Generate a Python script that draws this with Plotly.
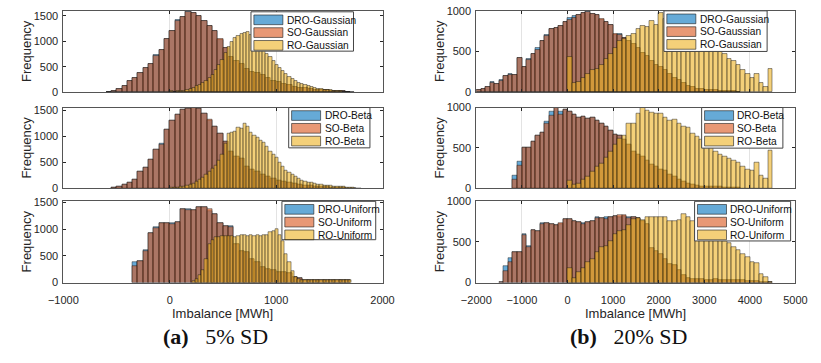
import plotly.graph_objects as go

# ---------------- data: histogram counts per bin ----------------
# (a) 5% SD  -- DRO/SO bins 50 MWh wide, RO bins 30 MWh wide
g5_dro_start, g5_dro_width = -600, 50
g5_dro = [10, 30, 60, 130, 225, 290, 385, 480, 565, 735, 840, 1040, 1200, 1425, 1480, 1595,
          1570, 1510, 1410, 1300, 1200, 1035, 880, 700, 610, 560, 460, 400, 370, 330, 290,
          230, 200, 160, 140, 110, 85, 75, 60, 50, 40, 35, 30, 25, 15, 10]
g5_so = [10, 30, 60, 120, 220, 290, 375, 475, 565, 705, 840, 1040, 1200, 1410, 1480, 1590,
         1570, 1510, 1410, 1300, 1200, 1045, 880, 700, 610, 560, 460, 400, 370, 330, 290,
         230, 200, 160, 140, 110, 85, 75, 60, 50, 40, 35, 30, 25, 15, 10]
g5_ro_start, g5_ro_width = 0, 30
g5_ro = [15, 12, 15, 22, 30, 45, 60, 85, 115, 145, 180, 225, 275, 345, 430, 530, 640, 780, 900,
         980, 1060, 1110, 1140, 1160, 1180, 1120, 1060, 990, 910, 830, 750, 690, 610, 540, 470,
         410, 350, 305, 265, 225, 190, 165, 140, 120, 100, 85, 72, 60, 50, 42, 35, 28, 22, 17,
         12, 9, 6, 4]

b5_dro_start, b5_dro_width = -550, 50
b5_dro = [12, 30, 70, 110, 180, 320, 410, 565, 745, 865, 1140, 1315, 1430, 1530, 1540, 1555,
          1540, 1435, 1310, 1190, 1060, 900, 720, 620, 570, 420, 360, 330, 260, 230, 190, 160,
          140, 110, 95, 80, 65, 50, 40, 35, 30, 25, 18, 12, 8, 5]
b5_so = [12, 30, 70, 110, 180, 320, 400, 565, 745, 850, 1140, 1300, 1430, 1530, 1540, 1555,
         1550, 1435, 1320, 1190, 1060, 900, 720, 620, 570, 420, 360, 330, 260, 230, 190, 160,
         140, 110, 95, 80, 65, 50, 40, 35, 30, 25, 18, 12, 8, 5]
b5_ro_start, b5_ro_width = 0, 30
b5_ro = [12, 15, 20, 30, 40, 55, 70, 95, 130, 170, 210, 260, 320, 380, 440, 540, 660, 870, 1060,
         1080, 1095, 1170, 1160, 1250, 1190, 1070, 1030, 980, 930, 880, 800, 720, 660, 600, 500,
         420, 350, 300, 260, 225, 190, 160, 140, 120, 105, 92, 85, 75, 66, 60, 50, 42, 37, 32,
         28, 25, 18, 12, 8, 5]

u5_dro_start, u5_dro_width = -350, 50
u5_dro = [380, 410, 610, 925, 1045, 1120, 1120, 1120, 1135, 1380, 1385, 1360, 1420, 1410, 1350,
          1290, 1110, 1060, 1065, 720, 600, 580, 450, 380, 300, 260, 230, 200, 190, 170, 100,
          80, 55, 50, 50, 55, 50, 55, 50, 55, 50]
u5_so = [310, 410, 590, 925, 1015, 1120, 1120, 1095, 1135, 1380, 1365, 1360, 1420, 1410, 1380,
         1290, 1110, 1060, 1045, 720, 600, 580, 450, 380, 300, 260, 230, 200, 190, 170, 100,
         80, 55, 50, 50, 55, 50, 55, 50, 55, 50]
u5_ro_start, u5_ro_width = 210, 30
u5_ro = [20, 65, 140, 230, 440, 715, 805, 850, 860, 875, 870, 880, 875, 860, 880, 895, 900, 880,
         890, 870, 885, 880, 900, 890, 940, 960, 1005, 900, 780, 540, 380, 220, 110, 65, 50, 45,
         40, 40, 42, 40, 38, 42, 40, 40, 42, 40, 38, 40, 42, 40]

# (b) 20% SD  -- all bins 100 MWh wide
g20_dro_start, g20_width = -2000, 100
g20_dro = [30, 45, 65, 120, 100, 155, 200, 225, 215, 420, 310, 415, 475, 545, 625, 705, 775, 795,
           820, 860, 910, 940, 950, 970, 995, 960, 950, 890, 870, 830, 700, 720, 665, 630, 590,
           545, 485, 445, 385, 330, 315, 270, 230, 170, 145, 110, 80, 62, 45, 40, 30, 25, 22,
           20, 18, 15, 12, 8]
g20_so = [25, 45, 65, 110, 100, 140, 200, 215, 215, 420, 310, 400, 475, 525, 625, 695, 775, 795,
          820, 860, 895, 920, 950, 970, 985, 960, 950, 900, 870, 830, 720, 710, 665, 630, 590,
          545, 485, 445, 385, 330, 315, 270, 230, 170, 145, 110, 80, 62, 45, 40, 30, 25, 22,
          20, 18, 15, 12, 8]
g20_ro_start = 0
g20_ro = [435, 110, 130, 180, 220, 270, 290, 340, 405, 465, 550, 625, 660, 690, 720, 775, 820,
          800, 880, 830, 975, 900, 880, 850, 820, 800, 760, 730, 700, 660, 640, 600, 560, 520,
          470, 410, 385, 330, 270, 230, 180, 230, 110, 60, 280]

b20_dro_start = -1200
b20_dro = [160, 335, 500, 510, 575, 650, 695, 830, 950, 1000, 945, 970, 950, 910, 880, 890, 870,
           880, 840, 800, 760, 720, 670, 660, 600, 540, 460, 420, 390, 340, 300, 265, 240, 220,
           175, 145, 110, 85, 65, 45, 35, 28, 25, 22, 20, 18, 15, 12, 10, 8]
b20_so = [110, 280, 500, 510, 575, 650, 695, 800, 900, 1000, 910, 970, 950, 910, 880, 890, 870,
          880, 840, 800, 760, 720, 670, 660, 600, 540, 460, 420, 390, 340, 300, 265, 240, 220,
          175, 145, 110, 85, 65, 45, 35, 28, 25, 22, 20, 18, 15, 12, 10, 8]
b20_ro_start = 0
b20_ro = [95, 45, 65, 105, 150, 215, 265, 310, 380, 460, 540, 620, 660, 800, 800, 930, 995, 965,
          940, 920, 930, 880, 840, 850, 800, 760, 755, 680, 640, 600, 540, 500, 460, 420, 400,
          375, 340, 320, 270, 230, 220, 320, 165, 125, 470]

u20_dro_start = -1500
u20_dro = [12, 205, 300, 370, 380, 600, 450, 640, 635, 735, 735, 720, 710, 715, 775, 780, 750,
           740, 735, 740, 760, 800, 795, 800, 800, 815, 805, 815, 800, 805, 790, 760, 720, 420,
           390, 350, 290, 230, 210, 150, 90, 60, 45, 40, 38, 35, 35, 38, 35, 35, 32, 30, 28, 25,
           20, 18, 15, 12, 10, 8]
u20_so = [12, 145, 250, 370, 380, 585, 430, 640, 635, 720, 735, 720, 710, 730, 775, 780, 750,
          740, 720, 740, 760, 790, 795, 780, 800, 815, 825, 830, 790, 805, 790, 760, 720, 420,
          390, 350, 290, 230, 210, 150, 90, 60, 45, 40, 38, 35, 35, 38, 35, 35, 32, 30, 28, 25,
          20, 18, 15, 12, 10, 8]
u20_ro_start = 0
u20_ro = [180, 50, 130, 180, 250, 290, 370, 430, 450, 510, 590, 630, 650, 700, 775, 790, 770,
          800, 800, 805, 800, 800, 750, 755, 770, 835, 800, 760, 720, 700, 680, 640, 600, 560,
          510, 480, 430, 400, 350, 310, 250, 245, 110, 70, 12]

series_names = ["DRO", "SO", "RO"]
dist_names = ["Gaussian", "Beta", "Uniform"]
x_ticks_a = [-1000, 0, 1000, 2000]
x_ticks_b = [-2000, -1000, 0, 1000, 2000, 3000, 4000, 5000]
y_ticks_a = [0, 500, 1000, 1500]
y_ticks_b = [0, 500, 1000]
captions = ["<b>(a)</b>\u2002 5% SD", "<b>(b)</b>\u2002 20% SD"]

# ---------------- styling ----------------
W, H = 821, 363
FACE = {"DRO": (0, 114, 189), "SO": (217, 83, 25), "RO": (237, 177, 32)}
ALPHA = 0.6
EDGE = "rgba(25,25,25,0.75)"
AXC = "#262626"
SANS = "Liberation Sans, Arial, sans-serif"


def fx(px):
    return px / W


def fy(py):
    return 1 - py / H


def rgba(rgb, a):
    return f"rgba({rgb[0]},{rgb[1]},{rgb[2]},{a})"


def centers(start, width, n):
    return [start + width * (i + 0.5) for i in range(n)]


# panels: (axis index, series list, x range, y range, x ticks, y ticks, pixel box, legend box)
panels = [
    (1, [(g5_dro_start, g5_dro_width, g5_dro), (g5_dro_start, g5_dro_width, g5_so),
         (g5_ro_start, g5_ro_width, g5_ro)], "Gaussian", [-1000, 2000], [0, 1600],
     x_ticks_a, y_ticks_a, (50, 380, 5, 89), (244, 350, 6, 46.7)),
    (2, [(b5_dro_start, b5_dro_width, b5_dro), (b5_dro_start, b5_dro_width, b5_so),
         (b5_ro_start, b5_ro_width, b5_ro)], "Beta", [-1000, 2000], [0, 1560],
     x_ticks_a, y_ticks_a, (50, 380, 105, 188.7), (283, 367, 105, 146.7)),
    (3, [(u5_dro_start, u5_dro_width, u5_dro), (u5_dro_start, u5_dro_width, u5_so),
         (u5_ro_start, u5_ro_width, u5_ro)], "Uniform", [-1000, 2000], [0, 1530],
     x_ticks_a, y_ticks_a, (50, 380, 201.7, 286), (276, 373, 202, 241.7)),
    (4, [(g20_dro_start, g20_width, g20_dro), (g20_dro_start, g20_width, g20_so),
         (g20_ro_start, g20_width, g20_ro)], "Gaussian", [-2000, 5000], [0, 1000],
     x_ticks_b, y_ticks_b, (477, 807, 5, 89), (671, 777.7, 5, 47)),
    (5, [(b20_dro_start, g20_width, b20_dro), (b20_dro_start, g20_width, b20_so),
         (b20_ro_start, g20_width, b20_ro)], "Beta", [-2000, 5000], [0, 1000],
     x_ticks_b, y_ticks_b, (477, 807, 105, 188.7), (710, 794, 105, 147)),
    (6, [(u20_dro_start, g20_width, u20_dro), (u20_dro_start, g20_width, u20_so),
         (u20_ro_start, g20_width, u20_ro)], "Uniform", [-2000, 5000], [0, 1000],
     x_ticks_b, y_ticks_b, (477, 807, 201.7, 286), (702.7, 802, 202, 243)),
]

fig = go.Figure()
shapes, annotations = [], []

for idx, series, dist, xr, yr, xt, yt, box, leg in panels:
    sfx = "" if idx == 1 else str(idx)
    for name, (start, width, counts) in zip(series_names, series):
        fig.add_trace(go.Bar(
            x=centers(start, width, len(counts)), y=counts, width=width,
            name=f"{name}-{dist}", showlegend=False,
            marker=dict(color=rgba(FACE[name], ALPHA), line=dict(color=EDGE, width=0.6)),
            xaxis="x" + sfx, yaxis="y" + sfx,
        ))
    x0, x1, y0, y1 = box
    bottom = idx in (3, 6)
    fig.layout["xaxis" + sfx] = dict(
        domain=[fx(x0), fx(x1)], range=xr, tickvals=xt, showticklabels=bottom,
        ticks="inside", ticklen=3, tickcolor=AXC, showline=True, linecolor="#555555",
        linewidth=1, mirror="ticks", showgrid=True, gridcolor="#e3e3e3", gridwidth=1,
        zeroline=False, anchor="y" + sfx, tickfont=dict(family=SANS, size=11, color=AXC),
        ticklabelstandoff=7, fixedrange=True,
    )
    fig.layout["yaxis" + sfx] = dict(
        domain=[fy(y1), fy(y0)], range=yr, tickvals=yt, ticks="inside", ticklen=3,
        tickcolor=AXC, showline=True, linecolor="#555555", linewidth=1, mirror="ticks",
        showgrid=False, zeroline=False, anchor="x" + sfx,
        tickfont=dict(family=SANS, size=11, color=AXC), ticklabelstandoff=2,
        fixedrange=True,
    )
    # y label
    annotations.append(dict(
        text="Frequency", textangle=-90, x=fx(x0 - 38), y=fy((y0 + y1) / 2),
        xref="paper", yref="paper", showarrow=False, xanchor="center", yanchor="middle",
        font=dict(family=SANS, size=13, color=AXC),
    ))
    if bottom:
        annotations.append(dict(
            text="Imbalance [MWh]", x=fx((x0 + x1) / 2), y=fy(318), xref="paper",
            yref="paper", showarrow=False, xanchor="center", yanchor="middle",
            font=dict(family=SANS, size=13, color=AXC),
        ))
    # legend box with white background
    lx0, lx1, ly0, ly1 = leg
    shapes.append(dict(type="rect", xref="paper", yref="paper", x0=fx(lx0), x1=fx(lx1),
                       y0=fy(ly1), y1=fy(ly0), fillcolor="white",
                       line=dict(color="#444444", width=1), layer="above"))
    for k, name in enumerate(series_names):
        top = ly0 + 3.3 + 13.2 * k
        shapes.append(dict(type="rect", xref="paper", yref="paper", x0=fx(lx0 + 3),
                           x1=fx(lx0 + 33), y0=fy(top + 10), y1=fy(top),
                           fillcolor=rgba(FACE[name], ALPHA),
                           line=dict(color=EDGE, width=0.8), layer="above"))
        annotations.append(dict(
            text=f"{name}-{dist}", x=fx(lx0 + 35), y=fy(top + 5.3), xref="paper",
            yref="paper", showarrow=False, xanchor="left", yanchor="middle",
            font=dict(family=SANS, size=10.2, color="#111111"),
        ))

for cap, cx in zip(captions, [207, 634]):
    annotations.append(dict(
        text=cap, x=fx(cx), y=fy(342), xref="paper", yref="paper", showarrow=False,
        xanchor="center", yanchor="middle",
        font=dict(family="Liberation Serif, DejaVu Serif, serif", size=22, color="#111111"),
    ))

fig.update_layout(
    width=W, height=H, margin=dict(l=0, r=0, t=0, b=0), barmode="overlay", bargap=0,
    plot_bgcolor="white", paper_bgcolor="white", showlegend=False,
    shapes=shapes, annotations=annotations,
)

fig.write_html("out.html", config={"displayModeBar": False})
